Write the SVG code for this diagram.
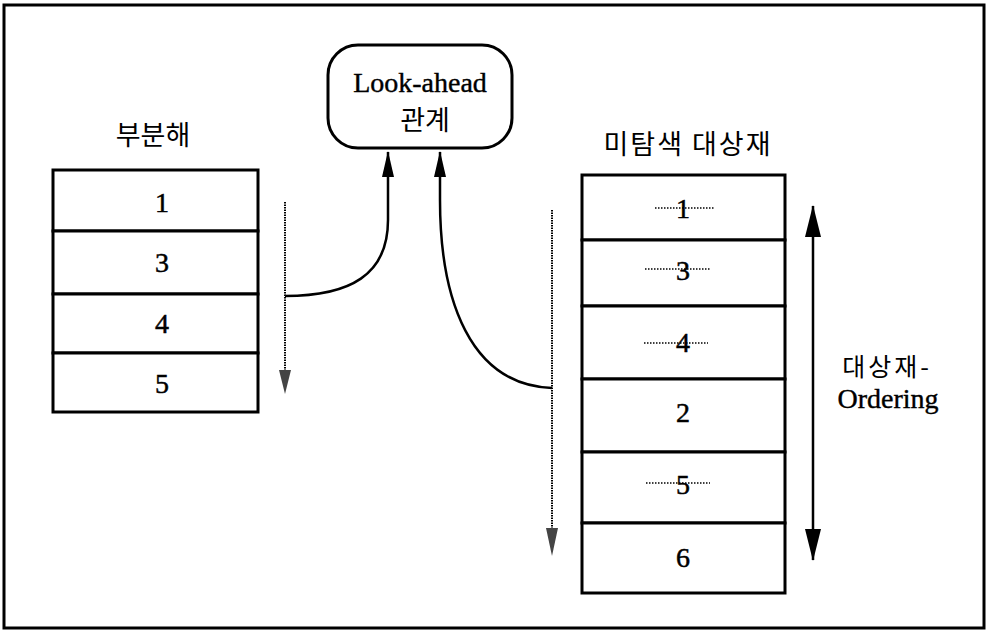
<svg xmlns="http://www.w3.org/2000/svg" width="988" height="631" viewBox="0 0 988 631">
  <style>
    .frame { fill: #fff; stroke: #000; stroke-width: 3; }
    .cell { fill: #fff; stroke: #000; stroke-width: 3; }
    .num { font-family: "Liberation Serif", serif; font-size: 28px; text-anchor: middle; fill: #000; stroke: #000; stroke-width: 0.5; }
    .kr { font-family: "Noto Sans CJK KR", "Noto Sans", sans-serif; font-size: 27px; text-anchor: middle; fill: #000; }
    .lbl { font-family: "Liberation Serif", "Noto Sans CJK KR", serif; font-size: 28px; text-anchor: middle; fill: #000; stroke: #000; stroke-width: 0.4; }
    .wire { fill: none; stroke: #000; stroke-width: 2.5; }
    .scan { fill: none; stroke: #000; stroke-width: 2; stroke-dasharray: 1.5 1; }
    .strike { stroke: #000; stroke-width: 1.3; stroke-dasharray: 1.5 1.5; }
  </style>
  <defs>
    <marker id="head" viewBox="0 0 26 12" refX="25" refY="6" markerWidth="26" markerHeight="12" markerUnits="userSpaceOnUse" orient="auto-start-reverse">
      <path d="M0,0 L26,6 L0,12 Z" fill="#000"/>
    </marker>
    <marker id="bighead" viewBox="0 0 32 16" refX="31" refY="8" markerWidth="32" markerHeight="16" markerUnits="userSpaceOnUse" orient="auto-start-reverse">
      <path d="M0,0 L32,8 L0,16 Z" fill="#000"/>
    </marker>
  </defs>

  <rect class="frame" x="4" y="5" width="980" height="623"/>

  <!-- partial solution stack -->
  <g id="partial-solution">
    <text class="kr" x="153" y="145">부분해</text>
    <rect class="cell" x="53" y="170" width="205" height="61"/>
    <rect class="cell" x="53" y="231" width="205" height="63"/>
    <rect class="cell" x="53" y="294" width="205" height="59"/>
    <rect class="cell" x="53" y="353" width="205" height="59"/>
    <text class="num" x="162" y="212">1</text>
    <text class="num" x="162" y="272">3</text>
    <text class="num" x="162" y="333">4</text>
    <text class="num" x="162" y="393">5</text>
  </g>

  <!-- look-ahead node -->
  <g id="look-ahead">
    <rect x="328" y="45" width="184" height="103" rx="30" ry="30" fill="#fff" stroke="#000" stroke-width="3"/>
    <text class="lbl" x="420" y="92">Look-ahead</text>
    <text class="kr" x="425" y="130">관계</text>
  </g>

  <!-- unexplored candidates stack -->
  <g id="unexplored">
    <text class="kr" x="688" y="154" style="letter-spacing:2px">미탐색 대상재</text>
    <rect class="cell" x="582" y="175" width="203" height="65"/>
    <rect class="cell" x="582" y="240" width="203" height="66"/>
    <rect class="cell" x="582" y="306" width="203" height="73"/>
    <rect class="cell" x="582" y="379" width="203" height="73"/>
    <rect class="cell" x="582" y="452" width="203" height="71"/>
    <rect class="cell" x="582" y="523" width="203" height="70"/>
    <text class="num" x="683" y="218">1</text>
    <text class="num" x="683" y="280">3</text>
    <text class="num" x="683" y="352">4</text>
    <text class="num" x="683" y="422">2</text>
    <text class="num" x="683" y="494">5</text>
    <text class="num" x="683" y="567">6</text>
    <line class="strike" x1="655" y1="208" x2="714" y2="208"/>
    <line class="strike" x1="645" y1="269" x2="711" y2="269"/>
    <line class="strike" x1="644" y1="343" x2="708" y2="343"/>
    <line class="strike" x1="646" y1="483" x2="710" y2="483"/>
  </g>

  <!-- ordering label -->
  <g id="ordering">
    <text class="kr" x="887" y="376" style="font-size:25px;letter-spacing:3px">대상재-</text>
    <text class="lbl" x="888" y="408">Ordering</text>
  </g>

  <g id="connectors">
    <!-- scan direction along each stack -->
    <line class="scan" x1="285" y1="202" x2="285" y2="372"/>
    <path d="M279,370 L291,370 L285,394 Z" fill="#444"/>
    <line class="scan" x1="552" y1="210" x2="552" y2="530"/>
    <path d="M546,528 L558,528 L552,556 Z" fill="#444"/>
    <!-- links to look-ahead -->
    <path class="wire" d="M285,296 C 350,296 388,275 388,220 L388,152" marker-end="url(#head)"/>
    <path class="wire" d="M552,388 C 470,385 440,300 440,200 L440,152" marker-end="url(#head)"/>
    <!-- ordering range -->
    <line class="wire" x1="813" y1="206" x2="813" y2="560" stroke-width="3" marker-start="url(#bighead)" marker-end="url(#bighead)"/>
  </g>
</svg>
